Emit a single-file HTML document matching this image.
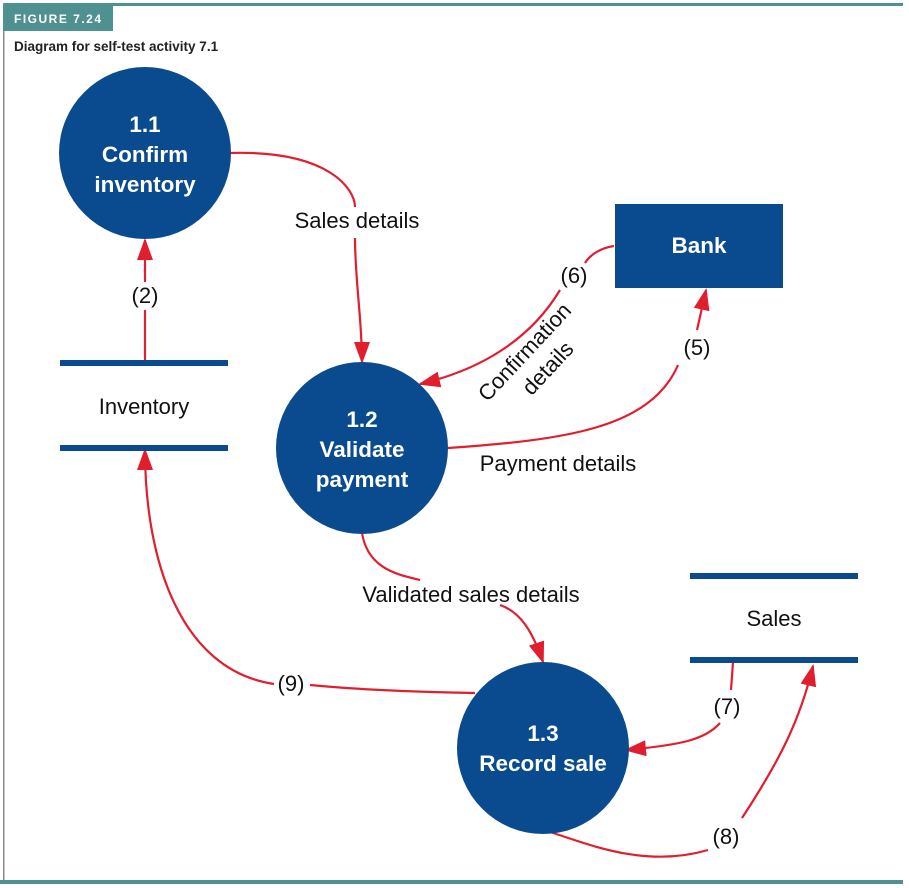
<!DOCTYPE html>
<html><head><meta charset="utf-8"><style>
html,body{margin:0;padding:0;background:#fff;}
svg{display:block;}
</style></head><body>
<svg width="909" height="888" viewBox="0 0 909 888" xmlns="http://www.w3.org/2000/svg" font-family="Liberation Sans, Arial, sans-serif">
<defs>
<marker id="ah" markerWidth="22" markerHeight="16" refX="20" refY="8" orient="auto" markerUnits="userSpaceOnUse">
<path d="M0,0 L22,8 L0,16 z" fill="#e01e2e"/></marker>
</defs>
<rect x="0" y="0" width="909" height="888" fill="#fff"/>
<rect x="3" y="3" width="900" height="3" fill="#4e9190"/>
<rect x="3" y="3" width="1.5" height="880" fill="#888"/>
<rect x="0" y="880" width="903" height="4" fill="#4e9190"/>
<rect x="3" y="5" width="110" height="26" fill="#4e9190"/>
<text x="14" y="23" font-size="12" font-weight="bold" fill="#fff" letter-spacing="1.5">FIGURE 7.24</text>
<text x="14" y="51" font-size="13.5" font-weight="bold" fill="#222">Diagram for self-test activity 7.1</text>

<g fill="none" stroke="#e01e2e" stroke-width="2.2">
<path d="M230,153 C330,150 355,190 355,207" />
<path d="M355,238 C355,280 362,320 362,362" marker-end="url(#ah)"/>
<path d="M145,362 L145,310"/>
<path d="M145,282 L145,240" marker-end="url(#ah)"/>
<path d="M614,246 C600,248 590,255 585,263"/>
<path d="M560,290 C530,340 480,370 420,384" marker-end="url(#ah)"/>
<path d="M448,448 C560,440 650,430 678,365"/>
<path d="M697,330 L706,290" marker-end="url(#ah)"/>
<path d="M362,533 C368,570 400,575 420,580"/>
<path d="M500,605 C520,612 532,630 543,662" marker-end="url(#ah)"/>
<path d="M475,693 C400,692 340,688 310,685"/>
<path d="M274,684 C180,670 145,560 145,450" marker-end="url(#ah)"/>
<path d="M733,662 L731,690"/>
<path d="M720,723 C705,740 680,745 626,750" marker-end="url(#ah)"/>
<path d="M543,830 C580,840 640,870 708,850"/>
<path d="M742,818 C780,760 800,720 813,666" marker-end="url(#ah)"/>
</g>

<g fill="#0a4a8e">
<circle cx="145" cy="153" r="86"/>
<circle cx="362" cy="448" r="86"/>
<circle cx="543" cy="748" r="86"/>
<rect x="615" y="204" width="168" height="84"/>
<rect x="60" y="360" width="168" height="6"/>
<rect x="60" y="445" width="168" height="6"/>
<rect x="690" y="573" width="168" height="6"/>
<rect x="690" y="657" width="168" height="6"/>
</g>

<g fill="#fff" font-weight="bold" font-size="22.5" text-anchor="middle">
<text x="145" y="132">1.1</text>
<text x="145" y="162">Confirm</text>
<text x="145" y="192">inventory</text>
<text x="362" y="427">1.2</text>
<text x="362" y="457">Validate</text>
<text x="362" y="487">payment</text>
<text x="543" y="741">1.3</text>
<text x="543" y="771">Record sale</text>
<text x="699" y="253">Bank</text>
</g>

<g fill="#111" font-size="22" text-anchor="middle">
<text x="357" y="228">Sales details</text>
<text x="145" y="303">(2)</text>
<text x="144" y="414">Inventory</text>
<text x="574" y="283">(6)</text>
<text x="697" y="355">(5)</text>
<text x="558" y="471">Payment details</text>
<text x="471" y="602">Validated sales details</text>
<text x="774" y="626">Sales</text>
<text x="291" y="691">(9)</text>
<text x="727" y="714">(7)</text>
<text x="726" y="844">(8)</text>
<g transform="translate(530,357) rotate(-47)">
<text x="0" y="0">Confirmation</text>
<text x="4" y="28">details</text>
</g>
</g>
</svg>
</body></html>
